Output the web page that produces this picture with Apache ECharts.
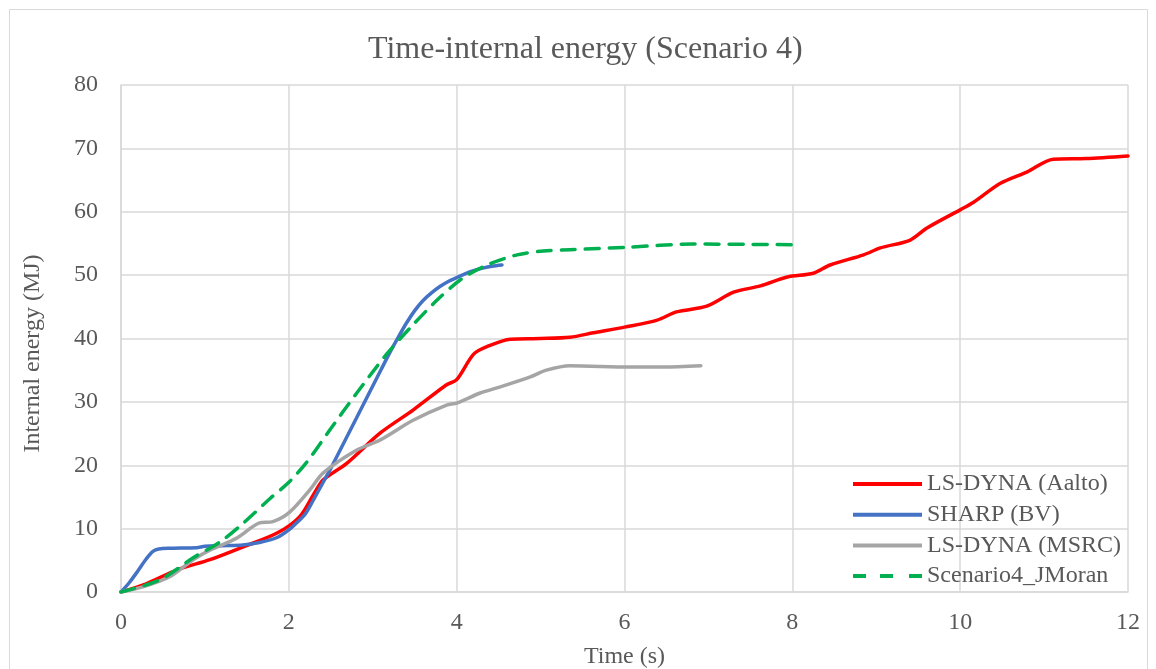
<!DOCTYPE html>
<html>
<head>
<meta charset="utf-8">
<script src="https://cdn.jsdelivr.net/npm/echarts@6/dist/echarts.min.js"></script>
<style>html,body{margin:0;padding:0;background:#fff;}#c{width:1156px;height:669px;}</style>
</head>
<body>
<div id="c"></div>
<script>
const seriesNames = ['LS-DYNA (Aalto)', 'SHARP (BV)', 'LS-DYNA (MSRC)', 'Scenario4_JMoran'];
const xTicks = [0, 2, 4, 6, 8, 10, 12];
const yTicks = [0, 10, 20, 30, 40, 50, 60, 70, 80];

const aaltoT = [0,0.3,0.67,1.06,1.45,1.86,2.13,2.3,2.41,2.69,3.09,3.48,3.88,4.0,4.2,4.36,4.64,5.0,5.35,5.63,6.0,6.39,6.62,6.98,7.3,7.62,7.94,8.25,8.45,8.85,9.05,9.4,9.6,10.0,10.16,10.48,10.8,11.11,11.5,12];
const aaltoE = [0,1.3,3.5,5.1,7.1,9.3,11.9,15.5,17.7,20.3,25.1,28.7,32.7,33.5,37.5,38.7,39.9,40.0,40.2,40.9,41.8,42.9,44.2,45.1,47.3,48.3,49.7,50.3,51.6,53.2,54.3,55.5,57.4,60.3,61.5,64.5,66.3,68.3,68.4,68.8];

const sharpT = [0,0.1,0.2,0.3,0.38,0.45,0.6,0.9,1.0,1.2,1.45,1.65,1.86,2.0,2.1,2.2,2.3,2.4,2.5,2.7,2.9,3.0,3.1,3.2,3.3,3.4,3.5,3.6,3.7,3.8,3.9,4.0,4.1,4.2,4.31,4.42,4.54];
const sharpE = [0,1.5,3.3,5.2,6.4,6.8,6.9,7.0,7.2,7.3,7.4,7.8,8.6,9.8,11.0,12.4,14.7,17.1,19.5,24.7,29.9,32.5,35.1,37.7,40.1,42.4,44.4,46.0,47.2,48.2,49.0,49.6,50.2,50.7,51.1,51.4,51.6];

const msrcT = [0,0.26,0.58,0.86,1.06,1.38,1.65,1.81,2.01,2.25,2.41,2.81,3.09,3.48,3.88,4.0,4.28,4.48,4.87,5.07,5.35,6.07,6.46,6.91];
const msrcE = [0,0.8,2.4,5.1,6.6,8.5,10.9,11.1,12.6,16.1,18.8,22.4,24.0,27.1,29.5,29.8,31.4,32.2,33.9,35.0,35.7,35.5,35.5,35.7];

const moranT = [0,0.46,0.86,1.18,1.46,1.78,2.0,2.22,2.49,2.81,3.17,3.44,3.77,4.08,4.4,4.72,5.03,5.35,6.03,6.82,8.0];
const moranE = [0,1.9,5.4,7.9,10.9,14.8,17.3,20.6,25.6,31.4,37.6,41.6,46.1,49.6,51.8,53.2,53.8,54.0,54.4,54.9,54.8];

const zip = (a, b) => a.map((v, i) => [v, b[i]]);
const colors = ['#ff0000', '#4472c4', '#a5a5a5', '#00b050'];
const font = "'Liberation Serif', 'Times New Roman', serif";
const solidIcon = 'path://M0,0H69V4H0Z';
const dashIcon = 'path://M0,0H13V4H0Z M27,0H40V4H27Z M56,0H69V4H56Z';

const chart = echarts.init(document.getElementById('c'));
function mkSeries(i, data, dashed) {
  return {
    name: seriesNames[i], type: 'line', data: data,
    showSymbol: false, symbol: 'none', smooth: 0.3,
    lineStyle: { color: colors[i], width: 3.5, type: dashed ? [14, 10] : 'solid', cap: 'round', join: 'round' },
    itemStyle: { color: colors[i] },
    emphasis: { disabled: true }, animation: false
  };
}
chart.setOption({
  animation: false,
  textStyle: { fontFamily: font },
  graphic: [{ type: 'rect', shape: { x: 9.5, y: 9.5, width: 1138, height: 680 }, style: { fill: 'none', stroke: '#d9d9d9', lineWidth: 1 }, silent: true }],
  title: { text: 'Time-internal energy (Scenario 4)', left: 363, top: 29, textStyle: { fontFamily: font, fontSize: 32, fontWeight: 'normal', color: '#595959' } },
  grid: { left: 121, right: 28, top: 85, bottom: 77, outerBoundsMode: 'none', containLabel: false },
  legend: {
    orient: 'vertical', left: 848, top: 467, itemWidth: 69, itemHeight: 4, itemGap: 6.7,
    itemStyle: { borderWidth: 0 }, lineStyle: { width: 0 },
    data: seriesNames.map((n, i) => ({ name: n, icon: i === 3 ? dashIcon : solidIcon })),
    textStyle: { fontFamily: font, fontSize: 24, lineHeight: 24, color: '#595959' }
  },
  xAxis: {
    type: 'value', min: xTicks[0], max: xTicks[xTicks.length - 1], interval: 2,
    name: 'Time (s)', nameLocation: 'middle', nameGap: 53,
    nameTextStyle: { fontFamily: font, fontSize: 24, color: '#595959' },
    axisLine: { show: true, lineStyle: { color: '#d9d9d9', width: 1.5 } },
    axisTick: { show: false },
    axisLabel: { fontFamily: font, fontSize: 24, color: '#595959', margin: 19 },
    splitLine: { show: true, lineStyle: { color: '#d9d9d9', width: 1.5 } }
  },
  yAxis: {
    type: 'value', min: yTicks[0], max: yTicks[yTicks.length - 1], interval: 10,
    name: 'Internal energy (MJ)', nameLocation: 'middle', nameGap: 76,
    nameTextStyle: { fontFamily: font, fontSize: 24, color: '#595959', padding: [0, 30, 0, 0] },
    axisLine: { show: true, lineStyle: { color: '#d9d9d9', width: 1.5 } },
    axisTick: { show: false },
    axisLabel: { fontFamily: font, fontSize: 24, color: '#595959', margin: 23 },
    splitLine: { show: true, lineStyle: { color: '#d9d9d9', width: 1.5 } }
  },
  series: [
    mkSeries(0, zip(aaltoT, aaltoE), false),
    mkSeries(1, zip(sharpT, sharpE), false),
    mkSeries(2, zip(msrcT, msrcE), false),
    mkSeries(3, zip(moranT, moranE), true)
  ]
});
</script>
</body>
</html>
